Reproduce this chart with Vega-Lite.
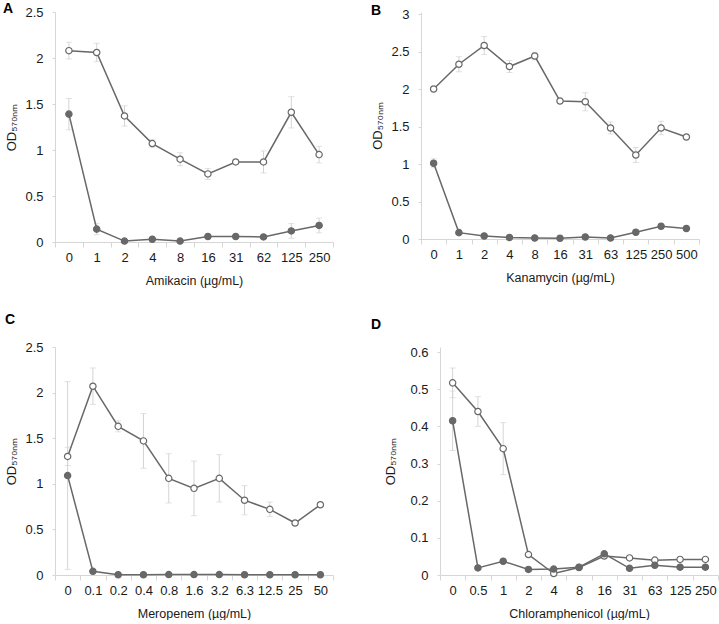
{
  "$schema": "https://vega.github.io/schema/vega-lite/v6.json",
  "padding": {"left": 3, "top": 2, "right": 0, "bottom": 0},
  "background": "white",
  "datasets": {
    "A": [
      {"x": "0", "s": "open", "v": 2.08, "e": 0.09},
      {"x": "1", "s": "open", "v": 2.06, "e": 0.10},
      {"x": "2", "s": "open", "v": 1.37, "e": 0.11},
      {"x": "4", "s": "open", "v": 1.07, "e": 0.04},
      {"x": "8", "s": "open", "v": 0.90, "e": 0.07},
      {"x": "16", "s": "open", "v": 0.74, "e": 0.06},
      {"x": "31", "s": "open", "v": 0.87, "e": 0.02},
      {"x": "62", "s": "open", "v": 0.87, "e": 0.12},
      {"x": "125", "s": "open", "v": 1.41, "e": 0.17},
      {"x": "250", "s": "open", "v": 0.95, "e": 0.09},
      {"x": "0", "s": "filled", "v": 1.39, "e": 0.17},
      {"x": "1", "s": "filled", "v": 0.14, "e": 0.06},
      {"x": "2", "s": "filled", "v": 0.01, "e": 0.01},
      {"x": "4", "s": "filled", "v": 0.03, "e": 0.01},
      {"x": "8", "s": "filled", "v": 0.01, "e": 0.01},
      {"x": "16", "s": "filled", "v": 0.06, "e": 0.01},
      {"x": "31", "s": "filled", "v": 0.06, "e": 0.01},
      {"x": "62", "s": "filled", "v": 0.055, "e": 0.01},
      {"x": "125", "s": "filled", "v": 0.12, "e": 0.08},
      {"x": "250", "s": "filled", "v": 0.18, "e": 0.08}
    ],
    "B": [
      {"x": "0", "s": "open", "v": 2.00, "e": 0.03},
      {"x": "1", "s": "open", "v": 2.33, "e": 0.10},
      {"x": "2", "s": "open", "v": 2.58, "e": 0.12},
      {"x": "4", "s": "open", "v": 2.30, "e": 0.08},
      {"x": "8", "s": "open", "v": 2.44, "e": 0.05},
      {"x": "16", "s": "open", "v": 1.84, "e": 0.02},
      {"x": "31", "s": "open", "v": 1.83, "e": 0.12},
      {"x": "63", "s": "open", "v": 1.48, "e": 0.08},
      {"x": "125", "s": "open", "v": 1.12, "e": 0.10},
      {"x": "250", "s": "open", "v": 1.48, "e": 0.09},
      {"x": "500", "s": "open", "v": 1.36, "e": 0.02},
      {"x": "0", "s": "filled", "v": 1.01, "e": 0.06},
      {"x": "1", "s": "filled", "v": 0.085, "e": 0.02},
      {"x": "2", "s": "filled", "v": 0.04, "e": 0.01},
      {"x": "4", "s": "filled", "v": 0.02, "e": 0.01},
      {"x": "8", "s": "filled", "v": 0.013, "e": 0.01},
      {"x": "16", "s": "filled", "v": 0.01, "e": 0.01},
      {"x": "31", "s": "filled", "v": 0.027, "e": 0.01},
      {"x": "63", "s": "filled", "v": 0.013, "e": 0.01},
      {"x": "125", "s": "filled", "v": 0.09, "e": 0.01},
      {"x": "250", "s": "filled", "v": 0.17, "e": 0.02},
      {"x": "500", "s": "filled", "v": 0.14, "e": 0.01}
    ],
    "C": [
      {"x": "0", "s": "open", "v": 1.30, "e": 0.10},
      {"x": "0.1", "s": "open", "v": 2.07, "e": 0.20},
      {"x": "0.2", "s": "open", "v": 1.63, "e": 0.06},
      {"x": "0.4", "s": "open", "v": 1.47, "e": 0.30},
      {"x": "0.8", "s": "open", "v": 1.06, "e": 0.27},
      {"x": "1.6", "s": "open", "v": 0.95, "e": 0.30},
      {"x": "3.2", "s": "open", "v": 1.06, "e": 0.26},
      {"x": "6.3", "s": "open", "v": 0.82, "e": 0.16},
      {"x": "12.5", "s": "open", "v": 0.72, "e": 0.08},
      {"x": "25", "s": "open", "v": 0.57, "e": 0.02},
      {"x": "50", "s": "open", "v": 0.77, "e": 0.02},
      {"x": "0", "s": "filled", "v": 1.09, "e": 1.03},
      {"x": "0.1", "s": "filled", "v": 0.04, "e": 0.01},
      {"x": "0.2", "s": "filled", "v": 0.003, "e": 0},
      {"x": "0.4", "s": "filled", "v": 0.003, "e": 0},
      {"x": "0.8", "s": "filled", "v": 0.005, "e": 0},
      {"x": "1.6", "s": "filled", "v": 0.005, "e": 0},
      {"x": "3.2", "s": "filled", "v": 0.005, "e": 0},
      {"x": "6.3", "s": "filled", "v": 0.003, "e": 0},
      {"x": "12.5", "s": "filled", "v": 0.003, "e": 0},
      {"x": "25", "s": "filled", "v": 0.003, "e": 0},
      {"x": "50", "s": "filled", "v": 0.003, "e": 0}
    ],
    "D": [
      {"x": "0", "s": "open", "v": 0.517, "e": 0.04},
      {"x": "0.5", "s": "open", "v": 0.44, "e": 0.04},
      {"x": "1", "s": "open", "v": 0.34, "e": 0.07},
      {"x": "2", "s": "open", "v": 0.055, "e": 0.003},
      {"x": "4", "s": "open", "v": 0.004, "e": 0.002},
      {"x": "8", "s": "open", "v": 0.02, "e": 0.003},
      {"x": "16", "s": "open", "v": 0.051, "e": 0.005},
      {"x": "31", "s": "open", "v": 0.046, "e": 0.003},
      {"x": "63", "s": "open", "v": 0.04, "e": 0.003},
      {"x": "125", "s": "open", "v": 0.042, "e": 0.002},
      {"x": "250", "s": "open", "v": 0.042, "e": 0.002},
      {"x": "0", "s": "filled", "v": 0.415, "e": 0.08},
      {"x": "0.5", "s": "filled", "v": 0.019, "e": 0.002},
      {"x": "1", "s": "filled", "v": 0.037, "e": 0.003},
      {"x": "2", "s": "filled", "v": 0.015, "e": 0.002},
      {"x": "4", "s": "filled", "v": 0.016, "e": 0.002},
      {"x": "8", "s": "filled", "v": 0.021, "e": 0.002},
      {"x": "16", "s": "filled", "v": 0.057, "e": 0.004},
      {"x": "31", "s": "filled", "v": 0.018, "e": 0.002},
      {"x": "63", "s": "filled", "v": 0.026, "e": 0.002},
      {"x": "125", "s": "filled", "v": 0.021, "e": 0.002},
      {"x": "250", "s": "filled", "v": 0.021, "e": 0.002}
    ]
  },
  "config": {
    "font": "Liberation Sans",
    "view": {"stroke": null},
    "title": {"font": "Liberation Sans", "fontSize": 14, "fontWeight": "bold", "color": "#000", "anchor": "start", "frame": "group"},
    "axis": {
      "labelFont": "Liberation Sans", "titleFont": "Liberation Sans",
      "labelFontSize": 13, "titleFontSize": 12.5, "titleFontWeight": "normal",
      "labelColor": "#1a1a1a", "titleColor": "#1a1a1a",
      "domainColor": "#d6d6d6", "tickColor": "#d6d6d6", "grid": false
    },
    "axisX": {"labelAngle": 0, "tickBand": "extent", "tickSize": 5, "labelPadding": 4, "titlePadding": 10},
    "axisY": {"tickSize": 3, "labelPadding": 9, "titlePadding": 6, "titleFontSize": 13}
  },
  "spacing": 26,
  "vconcat": [
    {
      "spacing": 37,
      "hconcat": [
        {
          "width": 278, "height": 230,
          "title": {"text": "A", "dx": -52, "offset": -3, "dy": 7},
          "data": {"name": "A"},
          "encoding": {
            "x": {"field": "x", "type": "ordinal", "sort": null,
              "scale": {"type": "band", "domain": ["0","1","2","4","8","16","31","62","125","250"], "paddingInner": 0, "paddingOuter": 0},
              "axis": {"title": "Amikacin (µg/mL)"}},
            "y": {"field": "v", "type": "quantitative",
              "scale": {"domain": [0, 2.5], "nice": false},
              "axis": {"values": [0, 0.5, 1, 1.5, 2, 2.5], "format": ".1~f", "title": "OD₅₇₀ₙₘ"}}
          },
          "layer": [
            {"transform": [{"filter": "datum.e > 0"}], "mark": {"type": "errorbar", "color": "#d4d4d4", "ticks": {"size": 6}}, "encoding": {"yError": {"field": "e"}}},
            {"mark": {"type": "line", "color": "#686868", "strokeWidth": 1.5}, "encoding": {"detail": {"field": "s"}, "order": {"value": null}}},
            {"mark": {"type": "point", "shape": "circle", "filled": true, "size": 40, "stroke": "#686868", "strokeWidth": 1.2, "opacity": 1},
              "encoding": {"fill": {"field": "s", "type": "nominal", "scale": {"domain": ["open", "filled"], "range": ["#ffffff", "#686868"]}, "legend": null}}}
          ]
        },
        {
          "width": 278, "height": 227,
          "title": {"text": "B", "dx": -50, "offset": -3, "dy": 7},
          "data": {"name": "B"},
          "encoding": {
            "x": {"field": "x", "type": "ordinal", "sort": null,
              "scale": {"type": "band", "domain": ["0","1","2","4","8","16","31","63","125","250","500"], "paddingInner": 0, "paddingOuter": 0},
              "axis": {"title": "Kanamycin (µg/mL)"}},
            "y": {"field": "v", "type": "quantitative",
              "scale": {"domain": [0, 3.027], "nice": false},
              "axis": {"values": [0, 0.5, 1, 1.5, 2, 2.5, 3], "format": ".1~f", "title": "OD₅₇₀ₙₘ"}}
          },
          "layer": [
            {"transform": [{"filter": "datum.e > 0"}], "mark": {"type": "errorbar", "color": "#d4d4d4", "ticks": {"size": 6}}, "encoding": {"yError": {"field": "e"}}},
            {"mark": {"type": "line", "color": "#686868", "strokeWidth": 1.5}, "encoding": {"detail": {"field": "s"}, "order": {"value": null}}},
            {"mark": {"type": "point", "shape": "circle", "filled": true, "size": 40, "stroke": "#686868", "strokeWidth": 1.2, "opacity": 1},
              "encoding": {"fill": {"field": "s", "type": "nominal", "scale": {"domain": ["open", "filled"], "range": ["#ffffff", "#686868"]}, "legend": null}}}
          ]
        }
      ]
    },
    {
      "spacing": 37,
      "hconcat": [
        {
          "width": 278, "height": 228,
          "title": {"text": "C", "dx": -50, "offset": 14},
          "data": {"name": "C"},
          "encoding": {
            "x": {"field": "x", "type": "ordinal", "sort": null,
              "scale": {"type": "band", "domain": ["0","0.1","0.2","0.4","0.8","1.6","3.2","6.3","12.5","25","50"], "paddingInner": 0, "paddingOuter": 0},
              "axis": {"title": "Meropenem (µg/mL)"}},
            "y": {"field": "v", "type": "quantitative",
              "scale": {"domain": [0, 2.5], "nice": false},
              "axis": {"values": [0, 0.5, 1, 1.5, 2, 2.5], "format": ".1~f", "title": "OD₅₇₀ₙₘ"}}
          },
          "layer": [
            {"transform": [{"filter": "datum.e > 0"}], "mark": {"type": "errorbar", "color": "#d4d4d4", "ticks": {"size": 6}}, "encoding": {"yError": {"field": "e"}}},
            {"mark": {"type": "line", "color": "#686868", "strokeWidth": 1.5}, "encoding": {"detail": {"field": "s"}, "order": {"value": null}}},
            {"mark": {"type": "point", "shape": "circle", "filled": true, "size": 40, "stroke": "#686868", "strokeWidth": 1.2, "opacity": 1},
              "encoding": {"fill": {"field": "s", "type": "nominal", "scale": {"domain": ["open", "filled"], "range": ["#ffffff", "#686868"]}, "legend": null}}}
          ]
        },
        {
          "width": 278, "height": 228,
          "title": {"text": "D", "dx": -69, "offset": 14},
          "data": {"name": "D"},
          "encoding": {
            "x": {"field": "x", "type": "ordinal", "sort": null,
              "scale": {"type": "band", "domain": ["0","0.5","1","2","4","8","16","31","63","125","250"], "paddingInner": 0, "paddingOuter": 0},
              "axis": {"title": "Chloramphenicol (µg/mL)"}},
            "y": {"field": "v", "type": "quantitative",
              "scale": {"domain": [0, 0.6135], "nice": false},
              "axis": {"values": [0, 0.1, 0.2, 0.3, 0.4, 0.5, 0.6], "format": ".1~f", "title": "OD₅₇₀ₙₘ", "titlePadding": 12}}
          },
          "layer": [
            {"transform": [{"filter": "datum.e > 0"}], "mark": {"type": "errorbar", "color": "#d4d4d4", "ticks": {"size": 6}}, "encoding": {"yError": {"field": "e"}}},
            {"mark": {"type": "line", "color": "#686868", "strokeWidth": 1.5}, "encoding": {"detail": {"field": "s"}, "order": {"value": null}}},
            {"mark": {"type": "point", "shape": "circle", "filled": true, "size": 40, "stroke": "#686868", "strokeWidth": 1.2, "opacity": 1},
              "encoding": {"fill": {"field": "s", "type": "nominal", "scale": {"domain": ["open", "filled"], "range": ["#ffffff", "#686868"]}, "legend": null}}}
          ]
        }
      ]
    }
  ]
}
